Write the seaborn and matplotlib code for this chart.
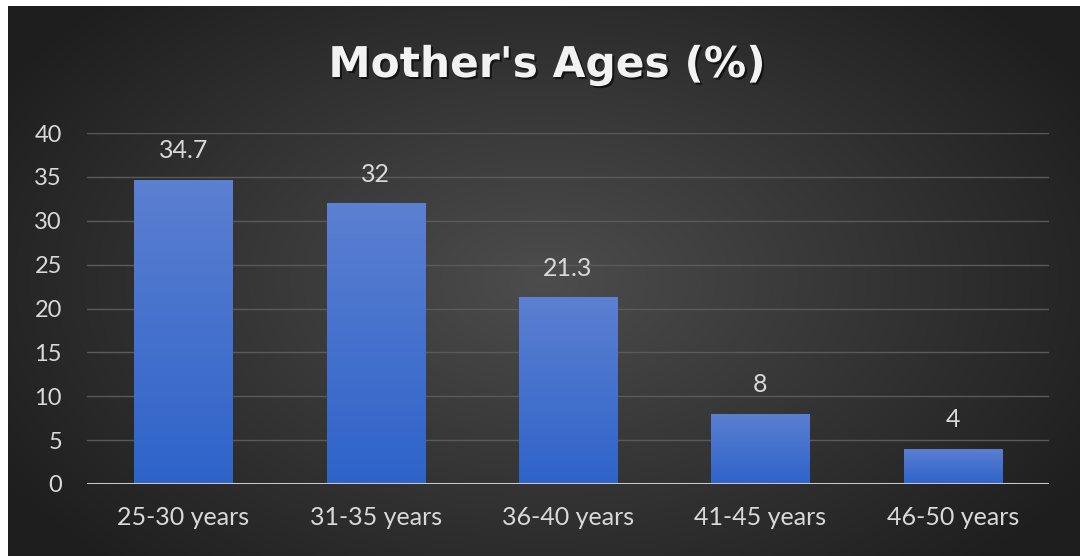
import numpy as np
import pandas as pd
import matplotlib
matplotlib.use("Agg")
import matplotlib.pyplot as plt
import matplotlib.patheffects as pe
import seaborn as sns

categories = ["25-30 years", "31-35 years", "36-40 years", "41-45 years", "46-50 years"]
values = [34.7, 32, 21.3, 8, 4]
labels = ["34.7", "32", "21.3", "8", "4"]
yticks = [0, 5, 10, 15, 20, 25, 30, 35, 40]

df = pd.DataFrame({"age": categories, "pct": values})

sns.set_theme(style="dark")
plt.rcParams["font.family"] = ["Lato", "DejaVu Sans"]

fig = plt.figure(figsize=(10.8, 5.56), dpi=100)
fig.patch.set_facecolor("white")

# dark radial background, leaving thin white strip top/left
bg = fig.add_axes([8 / 1080, 0, 1 - 8 / 1080, 1 - 6 / 556])
yy, xx = np.mgrid[-1:1:300j, -1:1:600j]
r = np.sqrt((xx * 0.9) ** 2 + (yy * 0.75) ** 2)
shade = np.clip(0.30 - 0.17 * r, 0.12, 0.30)
bg.imshow(np.dstack([shade, shade, shade]), aspect="auto", extent=[0, 1, 0, 1])
bg.set_axis_off()

ax = fig.add_axes([87 / 1080, 1 - 484 / 556, (1049 - 87) / 1080, (484 - 133) / 556])
ax.patch.set_alpha(0)
sns.barplot(data=df, x="age", y="pct", ax=ax, color="#3d6bd0", width=0.51, saturation=1)

# gradient fill on bars
grad = np.linspace(0, 1, 256).reshape(-1, 1)
top = np.array([0.36, 0.50, 0.82])
bot = np.array([0.18, 0.39, 0.79])
img = top * (1 - grad[..., None]) + bot * grad[..., None]
for p in ax.patches:
    x0, y0 = p.get_x(), p.get_y()
    w, h = p.get_width(), p.get_height()
    im = ax.imshow(img, aspect="auto", extent=[x0, x0 + w, y0, y0 + h], zorder=3)
    im.set_clip_path(p)
    p.set_edgecolor("none")

for i, (v, lab) in enumerate(zip(values, labels)):
    ax.text(i, v + 3.3, lab, ha="center", va="center", color="#d9d9d9", fontsize=18)

ax.set_xlim(-0.5, 4.5)
ax.set_ylim(0, 40)
ax.set_yticks(yticks)
ax.set_yticklabels([str(t) for t in yticks])
ax.grid(axis="y", color="#5a5a5a", linewidth=1)
ax.set_axisbelow(True)
for s in ax.spines.values():
    s.set_visible(False)
ax.axhline(0, color="#c8c8c8", linewidth=2.2, zorder=4)
ax.tick_params(axis="both", colors="#d9d9d9", length=0)
ax.tick_params(axis="x", pad=16, labelsize=18)
ax.tick_params(axis="y", pad=18, labelsize=17)
ax.set_xlabel("")
ax.set_ylabel("")

fig.text(547 / 1080, 1 - 65 / 556, "Mother's Ages (%)", ha="center", va="center",
         color="#f2f2f2", fontsize=30.5, fontweight="bold", family=["DejaVu Sans"],
         path_effects=[pe.withSimplePatchShadow(offset=(1.5, -1.5), shadow_rgbFace="black", alpha=0.6)])

fig.savefig("out.png", dpi=100, facecolor=fig.get_facecolor())
